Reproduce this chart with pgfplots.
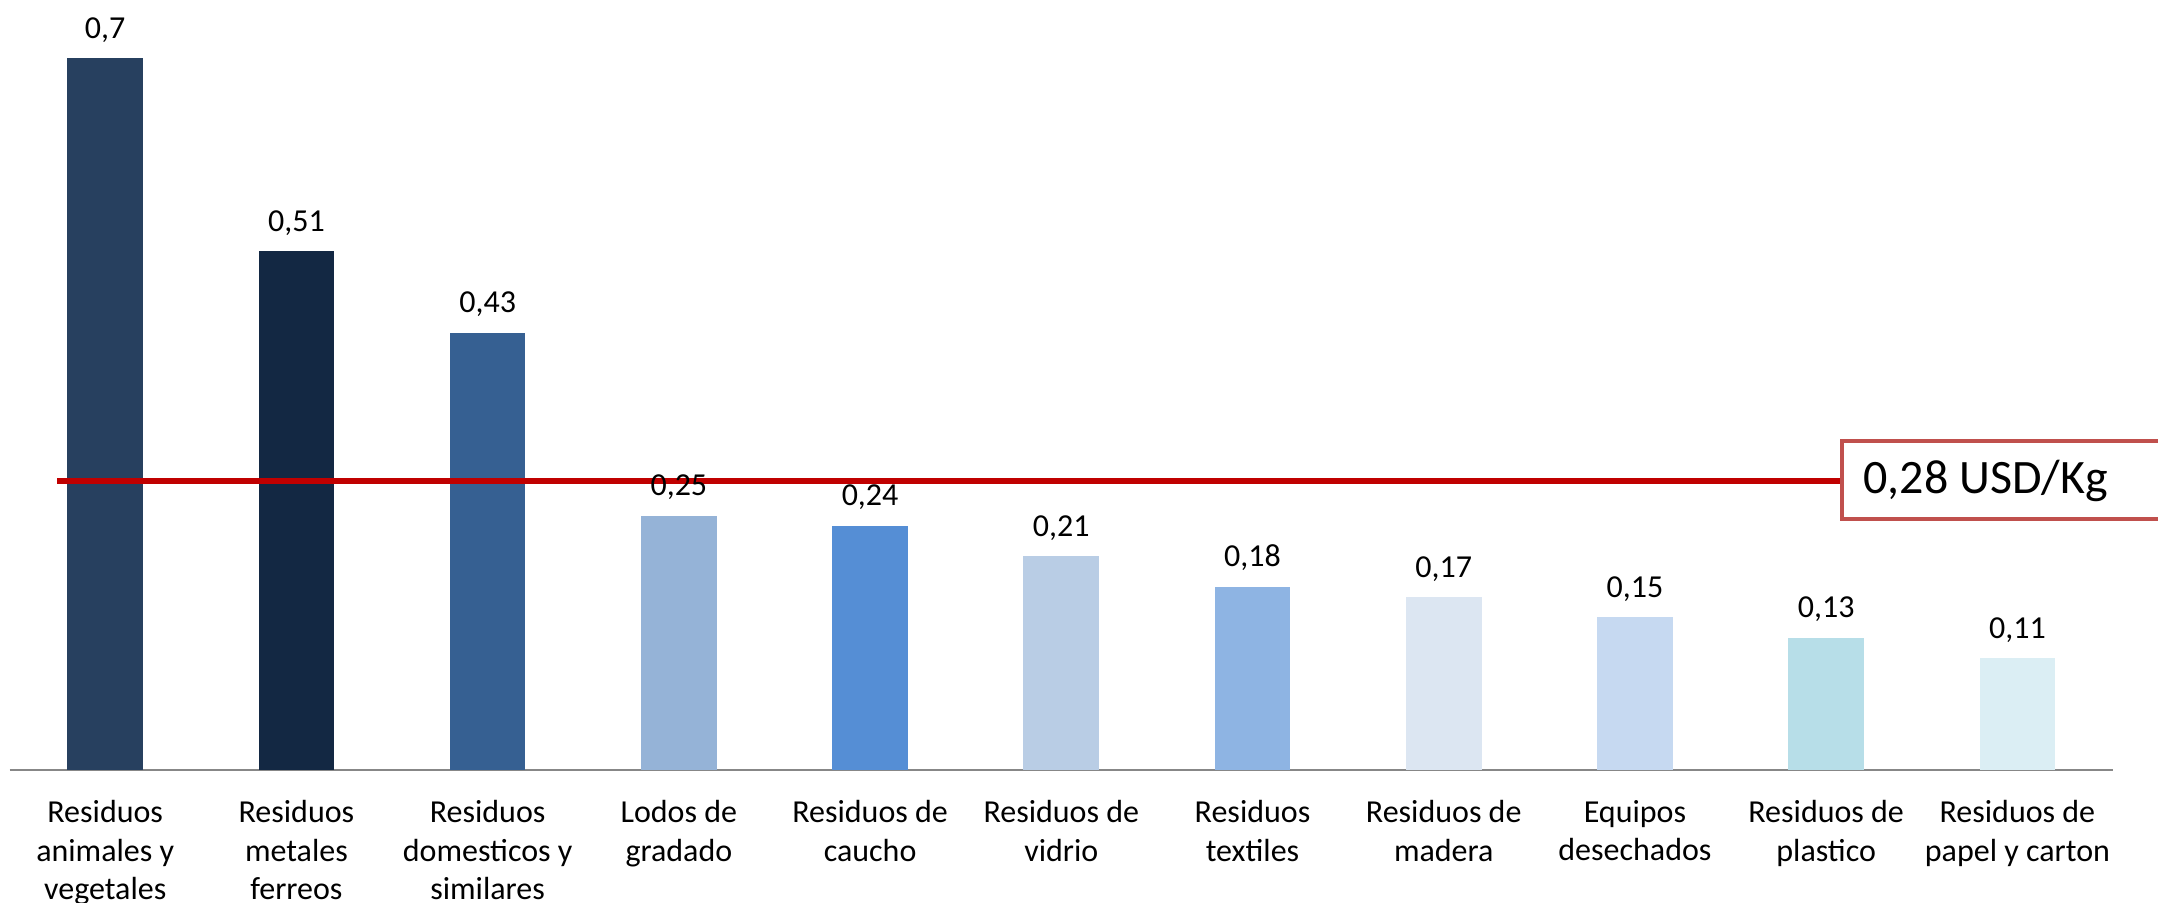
\documentclass[border=0pt]{standalone}
\usepackage{fontspec}
\setmainfont{Carlito}
\usepackage{pgfplots}
\pgfplotsset{compat=1.18}

\definecolor{c1}{HTML}{27405F}
\definecolor{c2}{HTML}{132843}
\definecolor{c3}{HTML}{366092}
\definecolor{c4}{HTML}{95B3D7}
\definecolor{c5}{HTML}{558ED5}
\definecolor{c6}{HTML}{B9CDE5}
\definecolor{c7}{HTML}{8EB4E3}
\definecolor{c8}{HTML}{DCE6F2}
\definecolor{c9}{HTML}{C6D9F1}
\definecolor{c10}{HTML}{B7DEE8}
\definecolor{c11}{HTML}{DBEEF4}
\definecolor{linered}{HTML}{C00000}
\definecolor{boxred}{HTML}{C0504D}
\definecolor{axisgray}{HTML}{878787}

\pgfplotsset{
  valbar/.style={
    ybar, bar width=37.85pt, bar shift=0pt, draw=none, fill=#1,
    nodes near coords,
    every node near coord/.append style={anchor=base, yshift=10pt,
      font=\fontsize{16}{19}\selectfont, text=black},
  }
}

\begin{document}
\begin{tikzpicture}
\begin{axis}[
    name=ax, at={(0,0)}, anchor=south west,
    scale only axis,
    width=1051.7pt, height=406.8pt,
    xmin=-0.5, xmax=10.5, ymin=0, ymax=0.8,
    axis x line=bottom, axis y line=none,
    x axis line style={-, draw=axisgray, line width=0.75pt},
    xtick={0,...,10},
    xtick style={draw=none},
    ytick=\empty,
    xticklabels={{Residuos\\animales y\\vegetales},{Residuos\\metales\\ferreos},{Residuos\\domesticos y\\similares},{Lodos de\\gradado},{Residuos de\\caucho},{Residuos de\\vidrio},{Residuos\\textiles},{Residuos de\\madera},{Equipos\\desechados},{Residuos de\\plastico},{Residuos de\\papel y carton}},
    xticklabel style={align=center, anchor=north, yshift=-9.5pt,
      font=\fontsize{16}{19.3}\selectfont},
    /pgf/number format/.cd, use comma, fixed, precision=2, assume math mode=true,
    /pgfplots/.cd,
    clip=false,
]
\addplot[valbar=c1]  coordinates {(0,0.70)};
\addplot[valbar=c2]  coordinates {(1,0.51)};
\addplot[valbar=c3]  coordinates {(2,0.43)};
\addplot[valbar=c4]  coordinates {(3,0.25)};
\addplot[valbar=c5]  coordinates {(4,0.24)};
\addplot[valbar=c6]  coordinates {(5,0.21)};
\addplot[valbar=c7]  coordinates {(6,0.18)};
\addplot[valbar=c8]  coordinates {(7,0.17)};
\addplot[valbar=c9]  coordinates {(8,0.15)};
\addplot[valbar=c10] coordinates {(9,0.13)};
\addplot[valbar=c11] coordinates {(10,0.11)};

% promedio
\addplot[draw=linered, line width=2.7pt, mark=none] coordinates {(-0.25,0.284) (9.084,0.284)};

\draw[draw=boxred, line width=2pt, fill=white] (axis cs:9.084,0.2468) rectangle (axis cs:11.3,0.3238);
\node[anchor=base west, inner sep=0pt, font=\fontsize{24}{29}\selectfont] at (axis cs:9.193,0.2714) {0,28 USD/Kg};
\end{axis}
\pgfresetboundingbox
\path[use as bounding box] ([shift={(-4.8pt,-66.5pt)}]ax.south west) rectangle ([shift={(1074.2pt,385pt)}]ax.south west);
\end{tikzpicture}
\end{document}
